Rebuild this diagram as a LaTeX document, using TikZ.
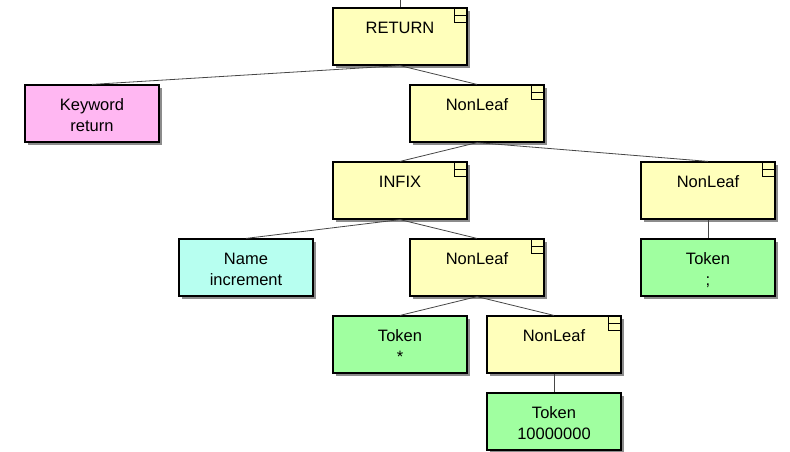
\documentclass[tikz,border=0pt]{standalone}
\usepackage{fontspec}
\setmainfont{Liberation Sans}
\usetikzlibrary{shadows}

\definecolor{nonleafyellow}{RGB}{255,255,187}
\definecolor{keywordpink}{RGB}{255,183,242}
\definecolor{namecyan}{RGB}{183,255,240}
\definecolor{tokengreen}{RGB}{160,255,160}
\definecolor{linkgray}{RGB}{70,70,70}

\begin{document}
\begin{tikzpicture}[x=1pt, y=-1pt,
  treebox/.style={rectangle, draw=black, line width=1.2pt, inner sep=0pt,
    text width=134pt, align=center, text height=25pt, text depth=32pt,
    font=\fontsize{16.5}{21.4}\selectfont,
    drop shadow={shadow xshift=3pt, shadow yshift=-3pt, fill=black!45, opacity=1}},
  nonleafbox/.style={treebox, fill=nonleafyellow,
    path picture={
      \draw[line width=0.8pt] ([xshift=-13pt]path picture bounding box.north east)
        rectangle ([yshift=-14pt]path picture bounding box.north east);
      \draw[line width=0.8pt] ([xshift=-13pt,yshift=-7pt]path picture bounding box.north east)
        -- ([yshift=-7pt]path picture bounding box.north east);
    }},
  keywordbox/.style={treebox, fill=keywordpink},
  namebox/.style={treebox, fill=namecyan},
  tokenbox/.style={treebox, fill=tokengreen},
  link/.style={draw=linkgray, line width=0.8pt}]

\useasboundingbox (0,0) rectangle (790,451);

% parse tree
\node[nonleafbox] (ret)   at (400,36.5)  {RETURN};
\node[keywordbox] (kw)    at (92,113.5)  {Keyword\\return};
\node[nonleafbox] (nl1)   at (477,113.5) {NonLeaf};
\node[nonleafbox] (infix) at (400,190.5) {INFIX};
\node[nonleafbox] (nlr)   at (708,190.5) {NonLeaf};
\node[namebox]    (inc)   at (246,267.5) {Name\\increment};
\node[nonleafbox] (nl2)   at (477,267.5) {NonLeaf};
\node[tokenbox]   (semi)  at (708,267.5) {Token\\;};
\node[tokenbox]   (star)  at (400,344.5) {Token\\{}*};
\node[nonleafbox] (nl3)   at (554,344.5) {NonLeaf};
\node[tokenbox]   (num)   at (554,421.5) {Token\\10000000};

% links
\coordinate (top) at (400,0);
\draw[link] (top) -- (ret.north);
\foreach \p/\c in {ret/kw, ret/nl1, nl1/infix, nl1/nlr, infix/inc, infix/nl2,
                   nlr/semi, nl2/star, nl2/nl3, nl3/num} {
  \draw[link] (\p.south) -- (\c.north);
}

\end{tikzpicture}
\end{document}
